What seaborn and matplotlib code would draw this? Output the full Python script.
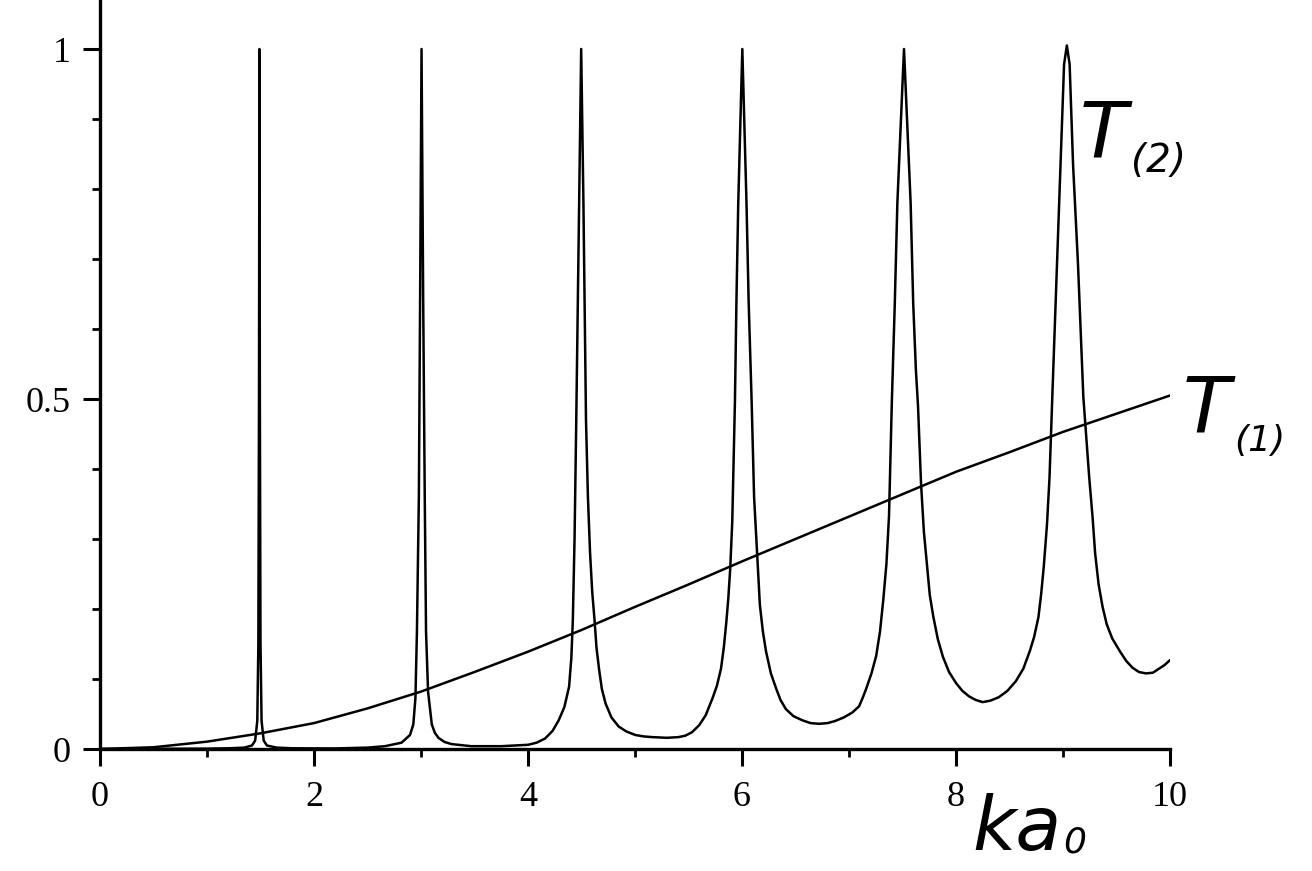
import seaborn as sns
import matplotlib.pyplot as plt
import pandas as pd
import numpy as np

# T(1): smooth curve
ka_t1 = [0, 0.5, 1.0, 1.5, 2.0, 2.5, 3.0, 3.5, 4.0, 4.5, 5.0, 5.5, 6.0,
         6.5, 7.0, 7.5, 8.0, 8.5, 9.0, 9.5, 10.0]
t1 = [0, 0.0025, 0.0105, 0.0224, 0.037, 0.058, 0.082, 0.110, 0.139, 0.170,
      0.203, 0.235, 0.268, 0.300, 0.332, 0.364, 0.396, 0.424, 0.453, 0.479, 0.505]

# T(2): resonance peaks
ka_t2 = [0, 0.5, 1.0, 1.2, 1.35,
         1.42, 1.45, 1.47, 1.48, 1.486, 1.49, 1.494, 1.50, 1.51, 1.53, 1.56, 1.65,
         1.8, 2.2, 2.5,
         2.663, 2.818, 2.897, 2.928, 2.948, 2.962, 2.98, 2.992, 3.005, 3.02, 3.035,
         3.047, 3.066, 3.101, 3.13, 3.163, 3.22, 3.286, 3.47,
         3.75, 4.0, 4.08,
         4.16, 4.23, 4.287, 4.34, 4.384, 4.405, 4.419, 4.435, 4.451, 4.478, 4.497,
         4.518, 4.542, 4.56, 4.58, 4.60, 4.622, 4.64, 4.665, 4.69, 4.725, 4.78,
         4.848, 4.92, 5.003, 5.08, 5.157,
         5.3, 5.407, 5.47,
         5.533, 5.60, 5.66, 5.723, 5.765, 5.804, 5.83, 5.854, 5.872, 5.89, 5.909,
         5.934, 5.948, 5.965, 6.003, 6.042, 6.062, 6.09, 6.113, 6.145, 6.167,
         6.195, 6.225, 6.27, 6.32, 6.36, 6.41, 6.48, 6.564, 6.64,
         6.72, 6.80, 6.87, 6.95, 7.03,
         7.094, 7.125, 7.158, 7.21, 7.254, 7.29, 7.321, 7.35, 7.374, 7.40, 7.428,
         7.452, 7.514, 7.576, 7.60, 7.625, 7.645, 7.673, 7.70, 7.73, 7.755, 7.788,
         7.83, 7.877, 7.935, 8.001, 8.06, 8.124, 8.185, 8.249, 8.32,
         8.40, 8.48, 8.56, 8.63, 8.69, 8.73, 8.77, 8.795, 8.82, 8.85, 8.874, 8.90,
         8.944, 8.977, 9.01, 9.036, 9.062, 9.094, 9.14, 9.19, 9.245, 9.277, 9.30,
         9.333, 9.37, 9.409, 9.46, 9.53, 9.59, 9.65, 9.71, 9.775, 9.84, 9.90,
         9.95, 10.0]
t2 = [0, 0.0002, 0.0005, 0.001, 0.002,
      0.005, 0.012, 0.04, 0.15, 0.5, 1.0, 0.5, 0.15, 0.04, 0.012, 0.005, 0.002,
      0.001, 0.0008, 0.002,
      0.004, 0.009, 0.02, 0.035, 0.073, 0.168, 0.36, 0.65, 1.0, 0.65, 0.36,
      0.168, 0.082, 0.035, 0.023, 0.016, 0.010, 0.007, 0.004,
      0.004, 0.006, 0.009,
      0.015, 0.026, 0.041, 0.060, 0.089, 0.13, 0.184, 0.30, 0.47, 0.78, 1.0,
      0.78, 0.47, 0.36, 0.28, 0.225, 0.184, 0.145, 0.113, 0.086, 0.065, 0.045,
      0.032, 0.025, 0.02, 0.018, 0.017,
      0.016, 0.017, 0.019,
      0.024, 0.034, 0.048, 0.072, 0.090, 0.115, 0.145, 0.182, 0.215, 0.258, 0.325,
      0.497, 0.64, 0.78, 1.0, 0.78, 0.64, 0.497, 0.36, 0.268, 0.206,
      0.168, 0.139, 0.108, 0.086, 0.070, 0.057, 0.047, 0.041, 0.037,
      0.036, 0.037, 0.040, 0.045, 0.052,
      0.061, 0.072, 0.085, 0.108, 0.133, 0.168, 0.214, 0.265, 0.333, 0.494, 0.637,
      0.78, 1.0, 0.78, 0.637, 0.542, 0.49, 0.38, 0.31, 0.26, 0.22, 0.189,
      0.157, 0.132, 0.11, 0.094, 0.083, 0.075, 0.070, 0.067, 0.069,
      0.074, 0.083, 0.097, 0.115, 0.14, 0.160, 0.188, 0.22, 0.26, 0.32, 0.388, 0.503,
      0.693, 0.835, 0.978, 1.005, 0.978, 0.835, 0.693, 0.503, 0.388, 0.33, 0.28,
      0.235, 0.203, 0.178, 0.158, 0.14, 0.126, 0.116, 0.110, 0.108, 0.109, 0.115,
      0.12, 0.127]

dados1 = pd.DataFrame({'ka': ka_t1, 'T': t1})
dados2 = pd.DataFrame({'ka': ka_t2, 'T': t2})

sns.set_style("ticks")
plt.rcParams['font.family'] = ['Liberation Serif', 'DejaVu Serif']

fig = plt.figure(figsize=(13.12, 8.71), dpi=100)
ax = fig.add_axes([100 / 1312, (871 - 749) / 871, 1070 / 1312, 749 / 871])

sns.lineplot(data=dados2, x='ka', y='T', color='black', linewidth=1.8,
             estimator=None, sort=False, ax=ax)
sns.lineplot(data=dados1, x='ka', y='T', color='black', linewidth=1.8,
             estimator=None, sort=False, ax=ax)

ax.set_xlim(0, 10)
ax.set_ylim(0, 749 / 700)
ax.set_xlabel('')
ax.set_ylabel('')

for s in ['top', 'right']:
    ax.spines[s].set_visible(False)
for s in ['left', 'bottom']:
    ax.spines[s].set_linewidth(2.4)
    ax.spines[s].set_color('black')

ax.set_xticks([0, 2, 4, 6, 8, 10])
ax.set_xticklabels(['0', '2', '4', '6', '8', '10'])
ax.set_xticks([1, 3, 5, 7, 9], minor=True)
ax.set_yticks([0, 0.5, 1])
ax.set_yticklabels(['0', '0.5', '1'])
ax.set_yticks([0.1, 0.2, 0.3, 0.4, 0.6, 0.7, 0.8, 0.9], minor=True)

ax.tick_params(which='major', direction='out', length=12, width=2.2,
               labelsize=26, color='black', labelcolor='black')
ax.tick_params(axis='x', which='major', pad=11)
ax.tick_params(axis='y', which='major', pad=9)
ax.tick_params(which='minor', direction='out', length=5.5, width=2.0, color='black')

# rótulos escritos à mão no original
mao = dict(family='DejaVu Sans', style='italic', color='black', va='baseline', ha='left')
H = 871
fig.text(1080 / 1312, 1 - 158 / H, 'T', fontsize=56, **mao)
fig.text(1131 / 1312, 1 - 172 / H, '(2)', fontsize=28, **mao)
fig.text(1183 / 1312, 1 - 433 / H, 'T', fontsize=56, **mao)
fig.text(1234 / 1312, 1 - 451 / H, '(1)', fontsize=26, **mao)
fig.text(972 / 1312, 1 - 850 / H, 'ka', fontsize=54, **mao)
fig.text(1063 / 1312, 1 - 852 / H, '0', fontsize=26, **mao)

fig.savefig('out.png', dpi=100, facecolor='white')
